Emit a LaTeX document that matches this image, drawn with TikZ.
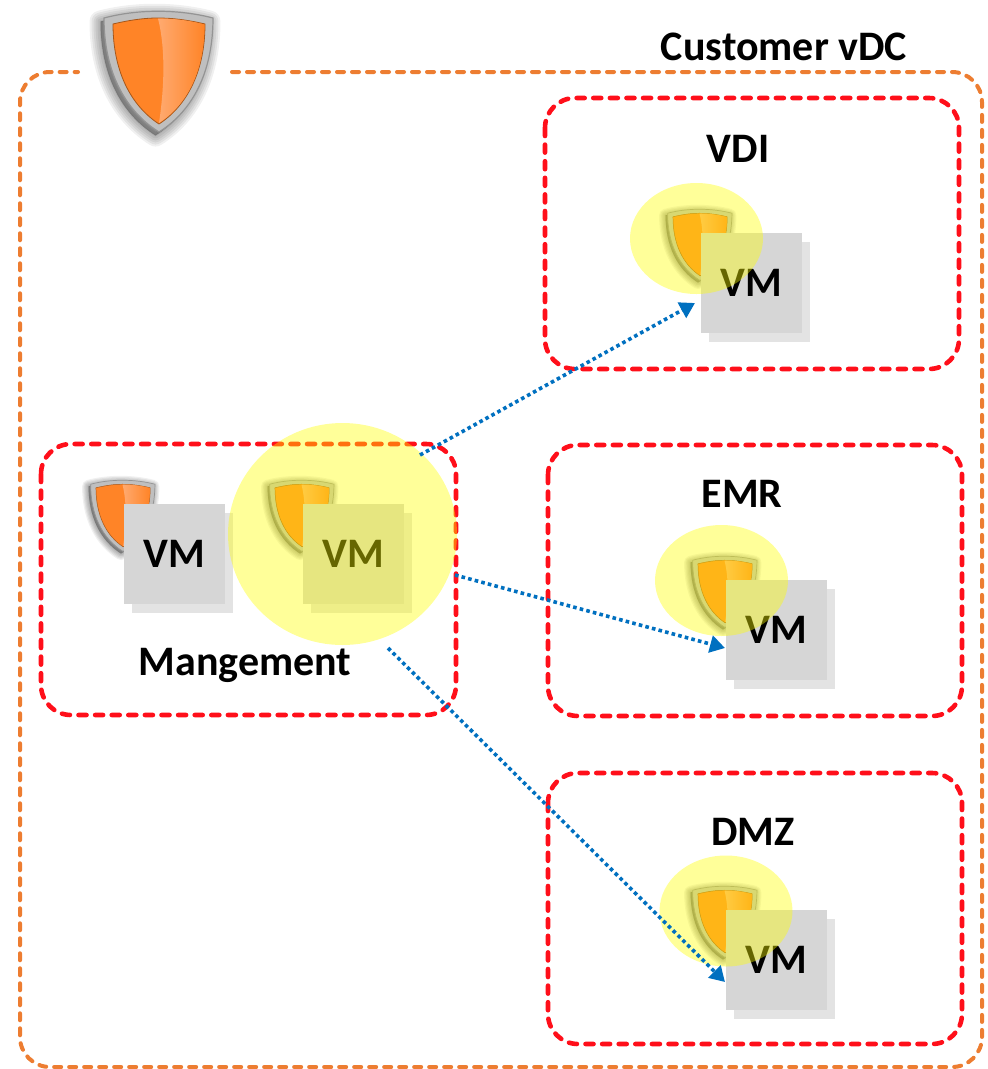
\documentclass[tikz,border=0pt]{standalone}
\usepackage{fontspec}
\setmainfont{Carlito}
\usetikzlibrary{arrows.meta,shapes.geometric}
\definecolor{zoneorange}{HTML}{ED7D31}
\definecolor{zonered}{HTML}{FF0F1A}
\definecolor{linkblue}{HTML}{0070C0}
\definecolor{shieldorange}{HTML}{FF8427}
\definecolor{shieldlight}{HTML}{FFAA70}
\definecolor{vmfront}{HTML}{D6D6D6}
\definecolor{vmback}{HTML}{E3E3E3}
\definecolor{halofill}{HTML}{FFFF00}
\tikzset{
  outerzone/.style={draw=zoneorange,line width=4pt,dash pattern=on 7pt off 8pt,line cap=round,rounded corners=30pt},
  zone/.style={draw=zonered,line width=4.6pt,dash pattern=on 8pt off 8.6pt,line cap=round,rounded corners=30pt},
  vmsquare/.style={fill=vmfront,anchor=north west,minimum width=101pt,minimum height=100pt,inner sep=0pt,
    font=\fontsize{42}{50}\selectfont\bfseries,text=black},
  vmshadow/.style={fill=vmback},
  halo/.style={fill=halofill,fill opacity=.4,draw=none,ellipse,inner sep=0pt},
  link/.style={draw=linkblue,line width=3.6pt,dash pattern=on 3.6pt off 3.2pt,
    -{Triangle[length=15pt,width=17pt,fill=linkblue]}},
  zonelabel/.style={font=\fontsize{42}{50}\selectfont\bfseries,text=black,inner sep=0pt},
}
\newcommand{\shieldpath}{(-54,8) .. controls (-20,-1) and (20,-1) .. (55,8)
  .. controls (55,60) and (36,100) .. (1,122) .. controls (-34,100) and (-54,60) .. (-54,8) -- cycle}
\newcommand{\shieldat}[3]{%
  \begin{scope}[shift={(#1,#2)},scale=#3]
    \foreach \w in {22,18,14,10,6,2}
      \draw[draw=black,draw opacity=.06,line width=#3*\w pt,fill=black,fill opacity=.06,line join=round,
            shift={(-3.5,3.5)}] \shieldpath;
    \fill[draw=black!42,line width=#3*1.2pt,fill=black!25] \shieldpath;
    \fill[fill=shieldorange,draw=black!35!shieldorange,line width=#3*.8pt]
      (-45,14) .. controls (-20,8) and (-5,8) .. (0,8) .. controls (15,8) and (30,10) .. (47,14)
      .. controls (47,60) and (30,95) .. (1,114) .. controls (-28,95) and (-45,60) .. (-45,14) -- cycle;
    \shade[left color=shieldlight,middle color=shieldorange,right color=shieldorange]
      (0,8.5) .. controls (15,8.5) and (30,10) .. (46.5,14.5) .. controls (46.5,60) and (30,94) .. (1,113)
      .. controls (6,80) and (8,40) .. (0,8.5) -- cycle;
  \end{scope}}
% #1 name, #2 left of front square, #3 top of front square
\newcommand{\vmstack}[3]{%
  \shieldat{#2-1.5}{#3-24.5}{.59}
  \fill[vmshadow] (#2+8,#3+9) rectangle (#2+109,#3+109);
  \node[vmsquare] (#1) at (#2,#3) {VM};}
\begin{document}
\begin{tikzpicture}[x=1pt,y=-1pt]
\useasboundingbox (0,0) rectangle (988,1069);
\fill[white] (0,0) rectangle (988,1069);

% customer zone, open at the top behind the big shield
\draw[outerzone] (232,72) -- (982,72) -- (982,1067) -- (20,1067) -- (20,72) -- (78,72);

\shieldat{158}{10}{1}

\node[zonelabel] (customer) at (784,47) {Customer vDC};

% zones
\draw[zone] (545,98) rectangle (959,369);
\draw[zone] (548,445) rectangle (962,716);
\draw[zone] (548,773) rectangle (962,1044);
\draw[zone] (41,444) rectangle (456,715);

\node[zonelabel] (vdi) at (738,149) {VDI};
\node[zonelabel] (emr) at (742,494) {EMR};
\node[zonelabel] (dmz) at (753,832) {DMZ};
\node[zonelabel] (mgmt) at (245,665) {Mangement};

% VM stacks
\vmstack{vma}{124}{504}
\vmstack{vmb}{303}{504}
\vmstack{vmvdi}{701}{233}
\vmstack{vmemr}{726}{580}
\vmstack{vmdmz}{726}{910}

% highlights
\node[halo,minimum width=229pt,minimum height=222pt] (halomgmt) at (342.5,534) {};
\node[halo,minimum width=133pt,minimum height=111pt] (halovdi) at (696.5,238.5) {};
\node[halo,minimum width=133pt,minimum height=111pt] (haloemr) at (721.5,580.5) {};
\node[halo,minimum width=133pt,minimum height=111pt] (halodmz) at (726,911) {};

% links
\coordinate (ta) at (695,303);
\coordinate (tb) at (725,648);
\coordinate (tc) at (725,982);
\coordinate (sa) at (420,455);
\coordinate (sb) at (455,575);
\coordinate (sc) at (388,648);
\draw[link] (sa) -- (ta);
\draw[link] (sb) -- (tb);
\draw[link] (sc) -- (tc);
\end{tikzpicture}
\end{document}
